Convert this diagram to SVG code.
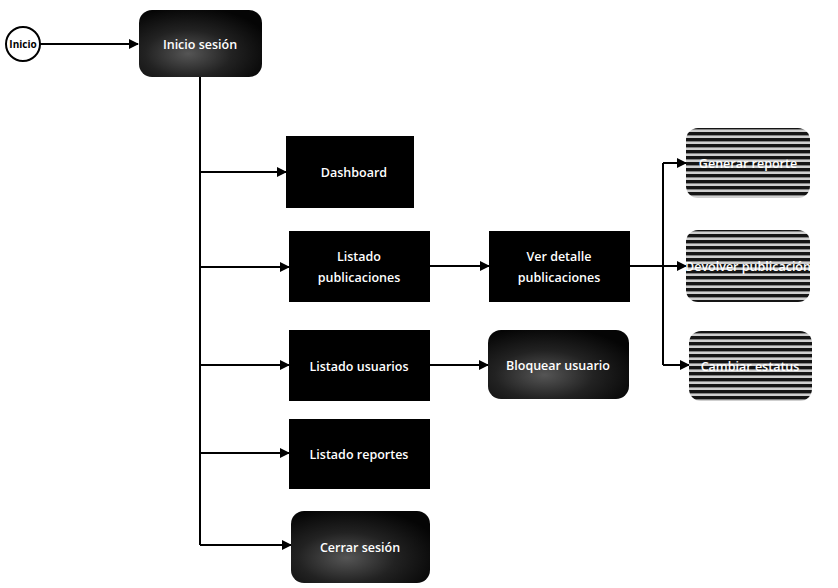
<svg xmlns="http://www.w3.org/2000/svg" width="838" height="588" viewBox="0 0 838 588">
  <style>
    .lbl { font-family: "Open Sans", "Liberation Sans", sans-serif; font-size: 12.5px; font-weight: 600; fill: #ffffff; text-anchor: middle; dominant-baseline: central; }
    .dark { font-family: "Open Sans", "Liberation Sans", sans-serif; font-size: 10px; fill: #000000; text-anchor: middle; dominant-baseline: central; font-weight: bold; }
    .box { fill: #000000; }
    .soft { fill: url(#shade); }
    .striped { fill: url(#stripes); }
    .edge { stroke: #000000; stroke-width: 2; fill: none; }
    .arrow { stroke: #000000; stroke-width: 2; fill: none; marker-end: url(#head); }
  </style>
  <defs>
    <marker id="head" viewBox="0 0 10 10" refX="9" refY="5" markerWidth="5" markerHeight="5" orient="auto" markerUnits="strokeWidth">
      <path d="M0,0 L10,5 L0,10 z" fill="#000000"/>
    </marker>
    <radialGradient id="shade" cx="0.4" cy="0.65" r="0.7">
      <stop offset="0" stop-color="#555555"/>
      <stop offset="0.5" stop-color="#222222"/>
      <stop offset="1" stop-color="#050505"/>
    </radialGradient>
    <pattern id="stripes" patternUnits="userSpaceOnUse" width="10" height="6">
      <rect width="10" height="6" fill="#cfcfcf"/>
      <rect width="10" height="3.4" fill="#151515"/>
    </pattern>
  </defs>

  <!-- connectors -->
  <g id="connectors">
    <line class="arrow" x1="40" y1="44" x2="138" y2="44"/>
    <polyline class="edge" points="200,77 200,545"/>
    <line class="arrow" x1="200" y1="172" x2="286" y2="172"/>
    <line class="arrow" x1="200" y1="267" x2="289" y2="267"/>
    <line class="arrow" x1="200" y1="365" x2="289" y2="365"/>
    <line class="arrow" x1="200" y1="453" x2="289" y2="453"/>
    <line class="arrow" x1="200" y1="545" x2="291" y2="545"/>
    <line class="arrow" x1="430" y1="266" x2="489" y2="266"/>
    <line class="arrow" x1="430" y1="365" x2="488" y2="365"/>
    <line class="edge" x1="630" y1="266" x2="686" y2="266"/>
    <polyline class="edge" points="663,163 663,365"/>
    <line class="arrow" x1="663" y1="163" x2="686" y2="163"/>
    <line class="arrow" x1="663" y1="266" x2="686" y2="266"/>
    <line class="arrow" x1="663" y1="365" x2="689" y2="365"/>
  </g>

  <g id="inicio">
    <circle cx="23" cy="44" r="17" fill="#ffffff" stroke="#000000" stroke-width="2"/>
    <text class="dark" x="23" y="44">Inicio</text>
  </g>

  <g id="inicio-sesion">
    <rect class="soft" x="139" y="10" width="123" height="67" rx="13"/>
    <text class="lbl" x="200" y="44">Inicio sesión</text>
  </g>

  <g id="dashboard">
    <rect class="box" x="286" y="136" width="128" height="72"/>
    <text class="lbl" x="354" y="172">Dashboard</text>
  </g>

  <g id="listado-publicaciones">
    <rect class="box" x="289" y="231" width="141" height="71"/>
    <text class="lbl" x="359" y="256">Listado</text>
    <text class="lbl" x="359" y="277">publicaciones</text>
  </g>

  <g id="ver-detalle">
    <rect class="box" x="489" y="231" width="141" height="71"/>
    <text class="lbl" x="559" y="256">Ver detalle</text>
    <text class="lbl" x="559" y="277">publicaciones</text>
  </g>

  <g id="listado-usuarios">
    <rect class="box" x="289" y="330" width="141" height="71"/>
    <text class="lbl" x="359" y="366">Listado usuarios</text>
  </g>

  <g id="bloquear-usuario">
    <rect class="soft" x="488" y="330" width="141" height="69" rx="13"/>
    <text class="lbl" x="558" y="365">Bloquear usuario</text>
  </g>

  <g id="listado-reportes">
    <rect class="box" x="289" y="419" width="141" height="70"/>
    <text class="lbl" x="359" y="454">Listado reportes</text>
  </g>

  <g id="cerrar-sesion">
    <rect class="soft" x="291" y="511" width="139" height="72" rx="13"/>
    <text class="lbl" x="360" y="547">Cerrar sesión</text>
  </g>

  <g id="generar-reporte">
    <rect class="striped" x="686" y="128" width="124" height="70" rx="12"/>
    <text class="lbl" x="748" y="163">Generar reporte</text>
  </g>

  <g id="devolver-publicacion">
    <rect class="striped" x="686" y="230" width="124" height="72" rx="12"/>
    <text class="lbl" x="748" y="266">Devolver publicación</text>
  </g>

  <g id="cambiar-estatus">
    <rect class="striped" x="689" y="331" width="123" height="70" rx="12"/>
    <text class="lbl" x="750" y="366">Cambiar estatus</text>
  </g>
</svg>
